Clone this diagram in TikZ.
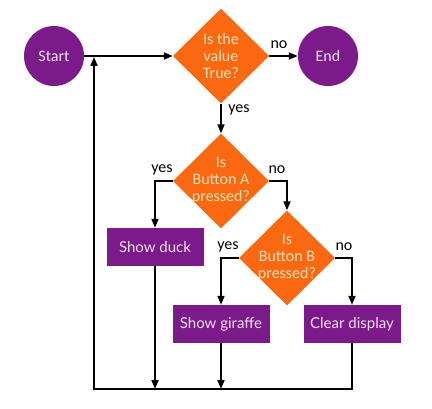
\documentclass[tikz,border=0pt]{standalone}
\usepackage{fontspec}
\setmainfont{Carlito}
\newfontfamily\boxfont{Lato}
\usetikzlibrary{shapes.geometric,arrows.meta}
\definecolor{flowpurple}{RGB}{124,26,140}
\definecolor{floworange}{RGB}{251,104,18}
\definecolor{peach}{RGB}{255,226,184}
\definecolor{lilac}{RGB}{246,226,248}
\begin{document}
\begin{tikzpicture}[x=1pt,y=-1pt,
  every node/.style={align=center,font=\fontsize{16}{17}\selectfont},
  terminal/.style={circle,fill=flowpurple,text=lilac,minimum size=60pt,inner sep=0pt},
  decision/.style={diamond,fill=floworange,minimum width=96pt,minimum height=95pt,inner sep=0pt},
  dtext/.style={text=peach,inner sep=0pt},
  action/.style={rectangle,fill=flowpurple,text=lilac,minimum width=97pt,minimum height=38pt,inner sep=0pt,font=\boxfont\fontsize{15}{17}\selectfont},
  flow/.style={line width=1.8pt,-{Triangle[length=9pt,width=7pt]}}]
\useasboundingbox (0,0) rectangle (432,408);
\node[terminal] (start) at (54,56) {Start};
\node[decision,label={[dtext]center:Is the\\value\\True?}] (valq) at (221,56) {};
\node[terminal] (end) at (328,56) {End};
\node[decision,label={[dtext]center:Is\\Button A\\pressed?}] (btna) at (221,181) {};
\node[decision,label={[dtext]center:Is\\Button B\\pressed?}] (btnb) at (287,258) {};
\node[action] (duck) at (155,247) {Show duck};
\node[action] (giraffe) at (221,324) {Show giraffe};
\node[action] (clear) at (352,324) {Clear display};
\coordinate (loopL) at (94,389);
% branch labels
\node (valno) at (279,45) {no};
\node (valyes) at (239,110) {yes};
\node (ayes) at (162,170) {yes};
\node (ano) at (277,170) {no};
\node (byes) at (228,247) {yes};
\node (bno) at (344,247) {no};
% connectors
\draw[flow] (start)--(valq);\draw[flow] (valq)--(end);\draw[flow] (valq)--(btna);
\draw[flow] (btna.west)-|(duck);\draw[flow] (btna.east)-|(btnb);
\draw[flow] (btnb.west)-|(giraffe);\draw[flow] (btnb.east)-|(clear);
\draw[flow] (duck)--(duck|-loopL);\draw[flow] (giraffe)--(giraffe|-loopL);
\draw[flow,shorten >=0.9pt] (clear.south)--(clear|-loopL)--(loopL)--(loopL|-start);
\end{tikzpicture}
\end{document}
